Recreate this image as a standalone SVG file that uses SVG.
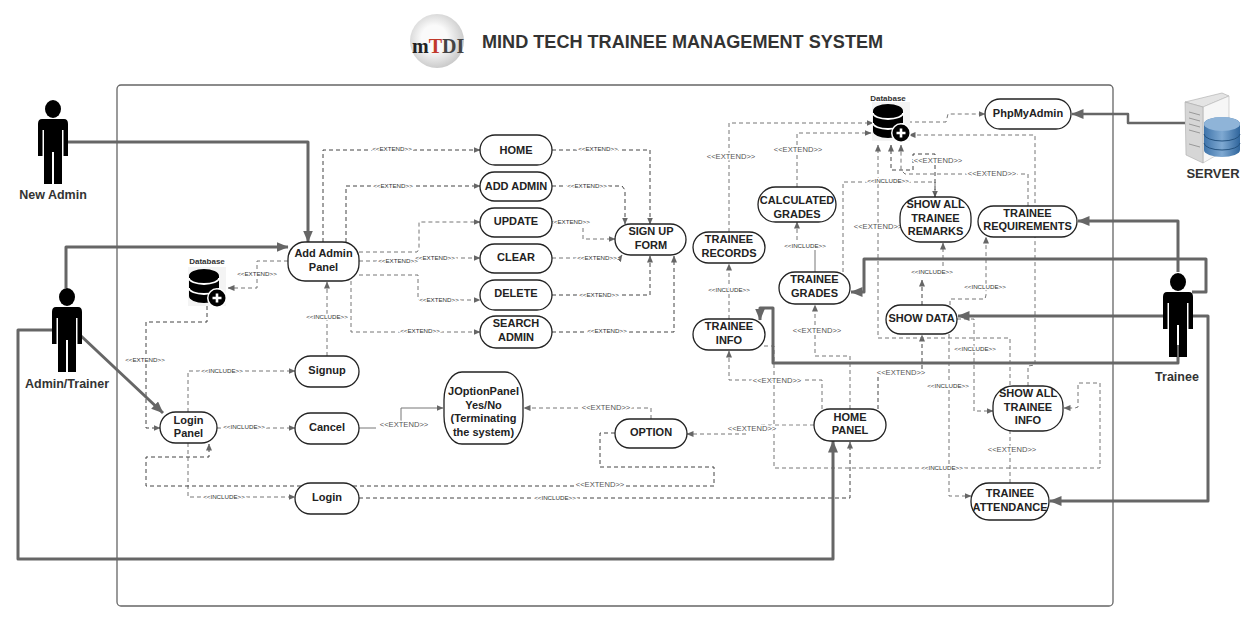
<svg xmlns="http://www.w3.org/2000/svg" xmlns:xlink="http://www.w3.org/1999/xlink" width="1258" height="617" viewBox="0 0 1258 617">
<style>
text{font-family:"Liberation Sans",Arial,sans-serif}
.n rect{fill:#fff;stroke:#222;stroke-width:1.3}
.n text{font-size:11px;font-weight:700;fill:#222;text-anchor:middle}
.d{fill:none;stroke:#777;stroke-width:1;stroke-dasharray:4 3;marker-end:url(#a)}
.k{fill:none;stroke:#444;stroke-width:1;stroke-dasharray:4 3;marker-end:url(#a)}
.p{fill:none;stroke:#888;stroke-width:1;stroke-dasharray:4 3}
.s{fill:none;stroke:#777;stroke-width:1}
.t{fill:none;stroke:#666;stroke-width:3;stroke-linejoin:round;marker-end:url(#b)}
.l text{font-size:6.2px;fill:#333;text-anchor:middle;stroke:#fff;stroke-width:2.5px;paint-order:stroke}
.l text.b{font-size:7.6px;fill:#555}
.cap{font-size:12.5px;font-weight:700;fill:#333;text-anchor:middle}
</style>
<defs>
<marker id="a" markerUnits="userSpaceOnUse" markerWidth="7" markerHeight="6" refX="6.5" refY="3" orient="auto"><path d="M0,0L7,3L0,6z" fill="#666"/></marker>
<marker id="b" markerUnits="userSpaceOnUse" markerWidth="12" markerHeight="10" refX="11.5" refY="5" orient="auto"><path d="M0,0L12,5L0,10z" fill="#666"/></marker>
<radialGradient id="lg" cx=".45" cy=".45" r=".6"><stop offset=".4" stop-color="#fafafa"/><stop offset="1" stop-color="#c4c4c4"/></radialGradient>
<linearGradient id="bl" x1="0" x2="1" y1="0" y2="0"><stop offset="0" stop-color="#3f74aa"/><stop offset=".5" stop-color="#7fa9d2"/><stop offset="1" stop-color="#2f659c"/></linearGradient>
<g id="person">
<ellipse cx="0" cy="9" rx="8" ry="9" fill="#000"/>
<path d="M-11,19Q-15,19-15,24V56H-10.500V30H-9V84H-1V52H1V84H9V30H10.500V56H15V24Q15,19 11,19Z" fill="#000"/>
</g>
<g id="db">
<rect x="-1" y="-2" width="38" height="39" fill="#f4f4f4"/>
<path d="M0,7A15,7 0 0 1 30,7V27A15,7 0 0 1 0,27Z" fill="#000"/>
<path d="M0,9A15,6 0 0 0 30,9M0,19A15,6 0 0 0 30,19" fill="none" stroke="#fff" stroke-width="1.800"/>
<circle cx="28" cy="29" r="10" fill="#fff"/><circle cx="28" cy="29" r="8.500" fill="#000"/>
<path d="M28,24.500V33.500M23.500,29H32.500" stroke="#fff" stroke-width="2.600"/>
</g>
</defs>
<rect width="1258" height="617" fill="#fff"/>
<rect x="117" y="85" width="996" height="521" rx="4" fill="none" stroke="#666" stroke-width="1.300"/>

<g id="logo">
<circle cx="437" cy="41" r="27" fill="url(#lg)"/>
<text x="412" y="53" style="font-family:'Liberation Serif',serif;font-size:20px;font-weight:700" fill="#222">m<tspan fill="#c0392b">T</tspan><tspan fill="#444">DI</tspan></text>
</g>
<text id="title" x="482" y="48" style="font-size:18.100px;font-weight:700" fill="#333">MIND TECH TRAINEE MANAGEMENT SYSTEM</text>

<g id="connectors">
<path class="k" d="M323,242V150H480"/>
<path class="k" d="M346,242V186H480"/>
<path class="d" d="M359,252H417L419,249V222H480"/>
<path class="d" d="M359,261H417V258H480"/>
<path class="d" d="M359,275H418V300H480"/>
<path class="d" d="M351,281V332H480"/>
<path class="d" d="M288,261H257V288H228"/>
<path class="d" d="M327,356V282"/>
<path class="k" d="M207,306V322H146V428H160"/>
<path class="d" d="M188,412V371H295"/>
<path class="d" d="M217,428H295"/>
<path class="d" d="M188,443V497H295"/>
<path class="s" d="M359,428H376"/>
<path class="s" d="M401,422V408H443" marker-end="url(#a)"/>
<path class="d" d="M651,419V408H524"/>
<path class="k" d="M615,433H600V467H714V486H146V457H209V444"/>
<path class="k" d="M359,498H850V442"/>
<path class="p" d="M814,425H760"/>
<path class="d" d="M746,434H687"/>
<path class="d" d="M822,409V380H729V351"/>
<path class="d" d="M850,409V356H815V305"/>
<path class="k" d="M878,409V372H922V335"/>
<path class="d" d="M729,319V264"/>
<path class="d" d="M729,232V123H873"/>
<path class="d" d="M797,187V133H871"/>
<path class="s" d="M815,272V250"/>
<path class="d" d="M797,240V222"/>
<path class="d" d="M843,272V182H935V197"/>
<path class="k" d="M935,197V154H913V170H891V145"/>
<path class="d" d="M1028,206V174H905L901,170V145"/>
<path class="d" d="M1010,483V338H878V145"/>
<path class="d" d="M1028,386V366L1035,365V135H909"/>
<path class="d" d="M908,122H946L948,114H985"/>
<path class="k" d="M922,305V280"/>
<path class="d" d="M943,266V243"/>
<path class="d" d="M950,305V299H985L986,295V237"/>
<path class="d" d="M957,319H974V411H993"/>
<path class="d" d="M949,334V496H971"/>
<path class="d" d="M764,346H774V468H1100V383H1078V407L1075,408H1064"/>
<path class="k" d="M552,150H650V224"/>
<path class="k" d="M552,186H622L625,190V224"/>
<path class="d" d="M583,228V239H615"/>
<path class="d" d="M552,258H620L622,255"/>
<path class="k" d="M552,295H650V256"/>
<path class="k" d="M552,332H674V256"/>
<path class="t" d="M66,142H308V242"/>
<path class="t" d="M66,288V247H288"/>
<path class="t" d="M80,335L163,413"/>
<path class="t" d="M52,330H18V559H833V441"/>
<path class="t" d="M1178,272V221H1078"/>
<path class="t" d="M1192,292H1206V259H864V292H851"/>
<path class="t" d="M1178,345V363H773V308H760V320"/>
<path class="t" d="M1165,316H958"/>
<path class="t" d="M1192,316H1208V501H1050"/>
<path class="t" style="stroke-width:2.500" d="M1185,123H1128V114H1072"/>
</g>

<g id="labels" class="l">
<text x="392" y="151">&lt;&lt;EXTEND&gt;&gt;</text>
<text x="393" y="188">&lt;&lt;EXTEND&gt;&gt;</text>
<text x="398" y="263">&lt;&lt;EXTEND&gt;&gt;</text>
<text x="435" y="260">&lt;&lt;EXTEND&gt;&gt;</text>
<text x="439" y="302">&lt;&lt;EXTEND&gt;&gt;</text>
<text x="420" y="333">&lt;&lt;EXTEND&gt;&gt;</text>
<text x="257" y="276">&lt;&lt;EXTEND&gt;&gt;</text>
<text x="327" y="319">&lt;&lt;INCLUDE&gt;&gt;</text>
<text x="145" y="362">&lt;&lt;EXTEND&gt;&gt;</text>
<text x="222" y="373">&lt;&lt;INCLUDE&gt;&gt;</text>
<text x="244" y="429">&lt;&lt;INCLUDE&gt;&gt;</text>
<text x="224" y="499">&lt;&lt;INCLUDE&gt;&gt;</text>
<text x="598" y="151">&lt;&lt;EXTEND&gt;&gt;</text>
<text x="587" y="188">&lt;&lt;EXTEND&gt;&gt;</text>
<text x="570" y="224">&lt;&lt;EXTEND&gt;&gt;</text>
<text x="597" y="260">&lt;&lt;EXTEND&gt;&gt;</text>
<text x="599" y="297">&lt;&lt;EXTEND&gt;&gt;</text>
<text x="607" y="333">&lt;&lt;EXTEND&gt;&gt;</text>
<text class="b" x="404" y="427">&lt;&lt;EXTEND&gt;&gt;</text>
<text class="b" x="606" y="410">&lt;&lt;EXTEND&gt;&gt;</text>
<text class="b" x="600" y="487">&lt;&lt;EXTEND&gt;&gt;</text>
<text x="555" y="500">&lt;&lt;INCLUDE&gt;&gt;</text>
<text class="b" x="752" y="431">&lt;&lt;EXTEND&gt;&gt;</text>
<text class="b" x="777" y="383">&lt;&lt;EXTEND&gt;&gt;</text>
<text class="b" x="817" y="333">&lt;&lt;EXTEND&gt;&gt;</text>
<text class="b" x="901" y="375">&lt;&lt;EXTEND&gt;&gt;</text>
<text x="729" y="292">&lt;&lt;INCLUDE&gt;&gt;</text>
<text class="b" x="731" y="159">&lt;&lt;EXTEND&gt;&gt;</text>
<text class="b" x="798" y="152">&lt;&lt;EXTEND&gt;&gt;</text>
<text x="805" y="248">&lt;&lt;INCLUDE&gt;&gt;</text>
<text x="888" y="183">&lt;&lt;INCLUDE&gt;&gt;</text>
<text class="b" x="878" y="229">&lt;&lt;EXTEND&gt;&gt;</text>
<text class="b" x="938" y="163">&lt;&lt;EXTEND&gt;&gt;</text>
<text class="b" x="992" y="176">&lt;&lt;EXTEND&gt;&gt;</text>
<text x="932" y="274">&lt;&lt;INCLUDE&gt;&gt;</text>
<text x="985" y="289">&lt;&lt;INCLUDE&gt;&gt;</text>
<text x="975" y="351">&lt;&lt;INCLUDE&gt;&gt;</text>
<text x="948" y="388">&lt;&lt;INCLUDE&gt;&gt;</text>
<text class="b" x="1012" y="452">&lt;&lt;EXTEND&gt;&gt;</text>
<text x="942" y="470">&lt;&lt;INCLUDE&gt;&gt;</text>
</g>

<g id="nodes">
<g class="n" id="home"><rect x="480" y="135" width="72" height="30" rx="15"/><text x="516" y="154">HOME</text></g>
<g class="n" id="add-admin"><rect x="480" y="172" width="72" height="29" rx="14.500"/><text x="516" y="190">ADD ADMIN</text></g>
<g class="n" id="update"><rect x="480" y="208" width="72" height="29" rx="14.500"/><text x="516" y="225">UPDATE</text></g>
<g class="n" id="clear"><rect x="480" y="244" width="72" height="29" rx="14.500"/><text x="516" y="261">CLEAR</text></g>
<g class="n" id="delete"><rect x="480" y="280" width="72" height="30" rx="15"/><text x="516" y="297">DELETE</text></g>
<g class="n" id="search-admin"><rect x="480" y="316" width="72" height="32" rx="16"/><text x="516" y="327">SEARCH</text><text x="516" y="341">ADMIN</text></g>
<g class="n" id="sign-up"><rect x="615" y="224" width="71" height="31" rx="15.500"/><text x="651" y="235">SIGN UP</text><text x="651" y="249">FORM</text></g>
<g class="n" id="add-admin-panel"><rect x="288" y="242" width="71" height="39" rx="17"/><text x="323.500" y="257">Add Admin</text><text x="323.500" y="271">Panel</text></g>
<g id="database-left"><text x="207" y="264" style="font-size:8px;font-weight:700;text-anchor:middle" fill="#333">Database</text><use href="#db" x="189" y="269"/></g>
<g class="n" id="signup"><rect x="295" y="356" width="64" height="31" rx="15.500"/><text x="327" y="374">Signup</text></g>
<g class="n" id="cancel"><rect x="295" y="413" width="64" height="31" rx="15.500"/><text x="327" y="431">Cancel</text></g>
<g class="n" id="login"><rect x="295" y="483" width="64" height="31" rx="15.500"/><text x="327" y="501">Login</text></g>
<g class="n" id="login-panel"><rect x="160" y="412" width="57" height="31" rx="15.500"/><text x="188.500" y="424">Login</text><text x="188.500" y="437">Panel</text></g>
<g class="n" id="joption"><rect x="444" y="372" width="79" height="72" rx="18" ry="28"/><text x="483.500" y="395">JOptionPanel</text><text x="483.500" y="409">Yes/No</text><text x="483.500" y="422">(Terminating</text><text x="483.500" y="436">the system)</text></g>
<g class="n" id="option"><rect x="615" y="419" width="72" height="29" rx="14.500"/><text x="651" y="436">OPTION</text></g>
<g class="n" id="home-panel"><rect x="814" y="409" width="72" height="32" rx="16"/><text x="850" y="421">HOME</text><text x="850" y="434">PANEL</text></g>
<g class="n" id="trainee-info"><rect x="693" y="319" width="72" height="31" rx="15.500"/><text x="729" y="330">TRAINEE</text><text x="729" y="344">INFO</text></g>
<g class="n" id="trainee-records"><rect x="693" y="232" width="72" height="31" rx="15.500"/><text x="729" y="243">TRAINEE</text><text x="729" y="257">RECORDS</text></g>
<g class="n" id="calculated-grades"><rect x="758" y="187" width="78" height="35" rx="17.500"/><text x="797" y="204">CALCULATED</text><text x="797" y="218">GRADES</text></g>
<g class="n" id="trainee-grades"><rect x="779" y="272" width="71" height="32" rx="16"/><text x="814.500" y="283">TRAINEE</text><text x="814.500" y="297">GRADES</text></g>
<g class="n" id="show-remarks"><rect x="900" y="197" width="71" height="45" rx="20"/><text x="935.500" y="208">SHOW ALL</text><text x="935.500" y="222">TRAINEE</text><text x="935.500" y="235">REMARKS</text></g>
<g class="n" id="trainee-requirements"><rect x="978" y="206" width="99" height="31" rx="15.500"/><text x="1027.500" y="217">TRAINEE</text><text x="1027.500" y="230">REQUIREMENTS</text></g>
<g class="n" id="phpmyadmin"><rect x="985" y="99" width="86" height="30" rx="15"/><text x="1028" y="117">PhpMyAdmin</text></g>
<g class="n" id="show-data"><rect x="886" y="305" width="71" height="29" rx="14.500"/><text x="921.500" y="322">SHOW DATA</text></g>
<g class="n" id="show-info"><rect x="993" y="386" width="70" height="45" rx="20"/><text x="1028" y="397">SHOW ALL</text><text x="1028" y="411">TRAINEE</text><text x="1028" y="424">INFO</text></g>
<g class="n" id="trainee-attendance"><rect x="971" y="483" width="78" height="37" rx="18"/><text x="1010" y="497">TRAINEE</text><text x="1010" y="511">ATTENDANCE</text></g>
<g id="database-right"><text x="888" y="101" style="font-size:8px;font-weight:700;text-anchor:middle" fill="#333">Database</text><use href="#db" x="873" y="104"/></g>
<g id="new-admin"><use href="#person" x="53" y="100"/><text class="cap" x="53" y="199">New Admin</text></g>
<g id="admin-trainer"><use href="#person" x="67" y="288"/><text class="cap" x="67" y="388">Admin/Trainer</text></g>
<g id="trainee"><use href="#person" x="1178" y="273"/><text class="cap" x="1177" y="381">Trainee</text></g>
<g id="server">
<path d="M1185,102L1222,93L1229,96L1203,107Z" fill="#e4e4e4" stroke="#aaa" stroke-width=".6"/>
<path d="M1203,107L1229,96V148L1203,163Z" fill="#f6f6f6" stroke="#bbb" stroke-width=".6"/>
<path d="M1185,102L1203,107V163L1186,155Z" fill="#d6d6d6" stroke="#aaa" stroke-width=".6"/>
<path d="M1189,112L1200,115M1189,118L1200,121M1189,124L1200,127M1189,130L1200,133M1189,144L1200,147" stroke="#999" stroke-width="1"/>
<path d="M1204,124A18,7 0 0 1 1240,124V150A18,7 0 0 1 1204,150Z" fill="url(#bl)"/>
<ellipse cx="1222" cy="124" rx="18" ry="7" fill="#8fb4d8"/>
<path d="M1204,134A18,7 0 0 0 1240,134M1204,143A18,7 0 0 0 1240,143" fill="none" stroke="#24527f" stroke-width="1"/>
<text x="1213" y="178" style="font-size:13px;font-weight:700;text-anchor:middle" fill="#333">SERVER</text>
</g>
</g>
</svg>
